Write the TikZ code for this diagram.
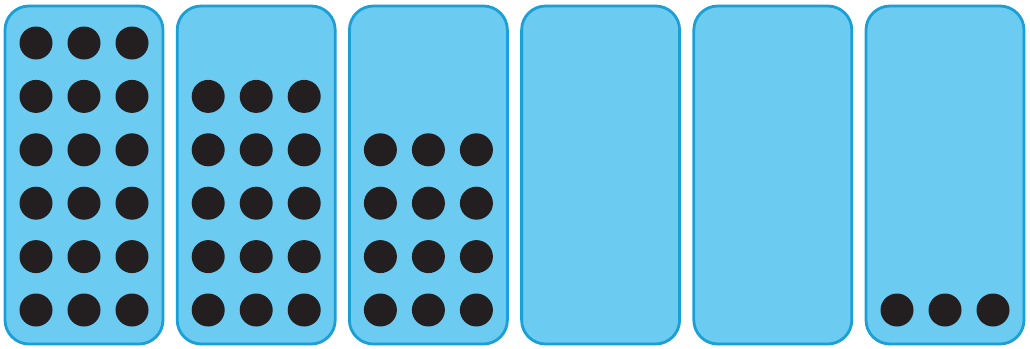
\documentclass[tikz,border=0pt]{standalone}
\begin{document}
\begin{tikzpicture}[x=1pt,y=-1pt,
  panel/.style={draw=panelline,fill=panelfill,line width=2.8pt,rounded corners=24pt},
  dot/.style={circle,fill=dotcol,minimum size=33pt,inner sep=0pt}]
\definecolor{panelfill}{HTML}{6BCBF1}
\definecolor{panelline}{HTML}{1A9FD6}
\definecolor{dotcol}{HTML}{231F20}
\useasboundingbox (0,0) rectangle (1030,348);
\foreach \i in {0,...,5} {
  \pgfmathsetmacro{\xa}{5+172.2*\i}
  \draw[panel] (\xa,6) rectangle (\xa+158,344);
}
% counts: panel index : first row
\foreach \p/\first in {0/1,1/2,2/3,5/6} {
  \foreach \r in {\first,...,6} {
    \foreach \c in {-1,0,1} {
      \pgfmathsetmacro{\cx}{84+172.2*\p+48*\c}
      \pgfmathsetmacro{\cy}{43+53.4*(\r-1)}
      \node[dot] (d\p-\r-\c) at (\cx,\cy) {};
    }
  }
}
\end{tikzpicture}
\end{document}
